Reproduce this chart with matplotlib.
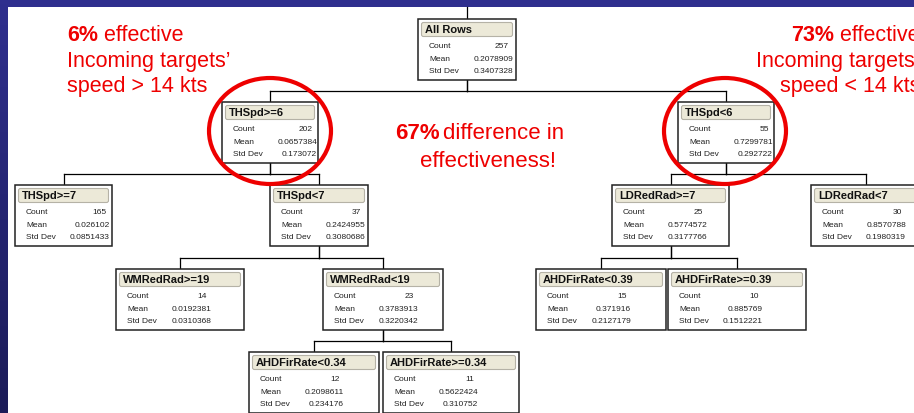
import numpy as np
import matplotlib
matplotlib.use('Agg')
import matplotlib.pyplot as plt
from matplotlib.patches import Rectangle, FancyBboxPatch, Ellipse

plt.rcParams['font.family'] = ['Liberation Sans', 'DejaVu Sans']

# Partition tree (JMP style) - node text
node_labels = ['All Rows', 'THSpd>=6', 'THSpd<6', 'THSpd>=7', 'THSpd<7',
               'LDRedRad>=7', 'LDRedRad<7', 'WMRedRad>=19', 'WMRedRad<19',
               'AHDFirRate<0.39', 'AHDFirRate>=0.39', 'AHDFirRate<0.34', 'AHDFirRate>=0.34']
node_counts = ['257', '202', '55', '165', '37', '25', '30', '14', '23', '15', '10', '12', '11']
node_means = ['0.2078909', '0.0657384', '0.7299781', '0.026102', '0.2424955', '0.5774572',
              '0.8570788', '0.0192381', '0.3783913', '0.371916', '0.885769', '0.2098611', '0.5622424']
node_stds = ['0.3407328', '0.173072', '0.292722', '0.0851433', '0.3080686', '0.3177766',
             '0.1980319', '0.0310368', '0.3220342', '0.2127179', '0.1512221', '0.234176', '0.310752']
node_parent = [None, 0, 0, 1, 1, 2, 2, 4, 4, 5, 5, 8, 8]

# layout in pixels (left, top, width), y grows downwards
box_left = [418, 222, 678, 15, 270, 612, 811, 116, 323, 536, 668, 249, 383]
box_top = [19, 102, 102, 185, 185, 185, 185, 269, 269, 269, 269, 352, 352]
box_width = [98, 96, 96, 97, 98, 117, 110, 128, 120, 130, 138, 130, 136]
box_h = 61

W, H = 914, 413
fig = plt.figure(figsize=(W / 100, H / 100), dpi=100)
ax = fig.add_axes([0, 0, 1, 1])

# slide frame
ax.add_patch(Rectangle((0, 0), W, 7, color='#2f2f8e', lw=0, zorder=1))
grad = np.linspace(0, 1, 100).reshape(-1, 1)
ax.imshow(grad, extent=(0, 8, H, 0), aspect='auto', zorder=1,
          cmap=matplotlib.colors.LinearSegmentedColormap.from_list('b', ['#2f2f8e', '#1c1c58']))
ax.set_xlim(0, W)
ax.set_ylim(H, 0)
ax.axis('off')

line_kw = dict(color='black', lw=0.9, zorder=2)

# connector from the top
ax.plot([box_left[0] + box_width[0] / 2] * 2, [7, box_top[0]], **line_kw)

for i in range(len(node_labels)):
    x0, y0, w = box_left[i], box_top[i], box_width[i]
    cx = x0 + w / 2
    p = node_parent[i]
    if p is not None:
        ym = y0 - 11
        pcx = box_left[p] + box_width[p] / 2
        ax.plot([pcx, pcx], [box_top[p] + box_h, ym], **line_kw)
        ax.plot([pcx, cx], [ym, ym], **line_kw)
        ax.plot([cx, cx], [ym, y0], **line_kw)
    ax.add_patch(Rectangle((x0, y0), w, box_h, facecolor='white', edgecolor='#222222',
                           lw=1.1, zorder=3))
    ax.add_patch(FancyBboxPatch((x0 + 3.5, y0 + 3.5), w - 7, 14,
                                boxstyle='round,pad=0,rounding_size=2',
                                facecolor='#ece9d8', edgecolor='#b5b2a6', lw=0.8, zorder=4))
    ax.text(x0 + 7, y0 + 11, node_labels[i], fontsize=8, fontweight='bold',
            va='center', ha='left', color='#111111', zorder=5)
    rows = [('Count', node_counts[i], 91), ('Mean', node_means[i], 95),
            ('Std Dev', node_stds[i], 95)]
    for k, (lab, val, xr) in enumerate(rows):
        yy = y0 + 27.5 + k * 12.7
        ax.text(x0 + 11, yy, lab, fontsize=6, va='center', ha='left', color='#222222', zorder=5)
        ax.text(x0 + xr, yy, val, fontsize=6, va='center', ha='right', color='#222222', zorder=5)

# highlight circles
red = '#ee0000'
for cx in (270, 725):
    ax.add_patch(Ellipse((cx, 131), 122, 106, fill=False, edgecolor=red, lw=3, zorder=6))

fs = 15.5
# left annotation
t = ax.text(67, 41, '6%', fontsize=fs, fontweight='bold', color=red, va='baseline', ha='left')
ax.annotate(' effective', xy=(1, 0), xycoords=t, fontsize=fs, color=red, va='bottom', ha='left')
ax.text(67, 67, 'Incoming targets\u2019', fontsize=fs, color=red, va='baseline', ha='left')
ax.text(67, 92, 'speed > 14 kts', fontsize=fs, color=red, va='baseline', ha='left')

# right annotation (runs off the slide edge, as on the original slide)
t = ax.text(920, 41, ' effective', fontsize=fs, color=red, va='baseline', ha='right')
ax.annotate('73%', xy=(0, 0), xycoords=t, fontsize=fs, fontweight='bold', color=red,
            va='bottom', ha='right')
ax.text(920, 67, 'Incoming targets\u2019', fontsize=fs, color=red, va='baseline', ha='right')
ax.text(920, 92, 'speed < 14 kts', fontsize=fs, color=red, va='baseline', ha='right')

# middle annotation
t = ax.text(395, 139, '67%', fontsize=16, fontweight='bold', color=red, va='baseline', ha='left')
ax.annotate('difference in', xy=(1, 0), xycoords=t, xytext=(3, 0), textcoords='offset pixels',
            fontsize=16, color=red, va='bottom', ha='left')
ax.text(488, 167, 'effectiveness!', fontsize=16, color=red, va='baseline', ha='center')

fig.savefig('out.png', dpi=100)
